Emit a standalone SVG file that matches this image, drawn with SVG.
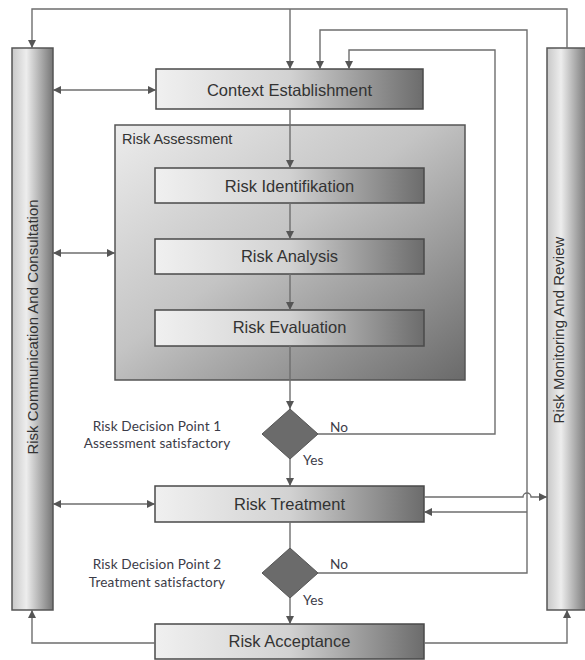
<svg xmlns="http://www.w3.org/2000/svg" width="585" height="660" viewBox="0 0 585 660">
<style>
.box{stroke:#4a4a4a;stroke-width:1.5;fill:url(#gBox)}
.bar{stroke:#555;stroke-width:1.5;fill:url(#gBar)}
.t{font-family:"Liberation Sans",Arial,sans-serif;font-size:16.5px;fill:#333;text-anchor:middle}
.bt{font-family:"Liberation Sans",Arial,sans-serif;font-size:15px;fill:#333;text-anchor:middle}
.s{font-family:Lato,"Open Sans",sans-serif;font-size:13.6px;letter-spacing:0.15px;fill:#3c3c48}
.c{fill:none;stroke:#6e6e6e;stroke-width:1.4}
</style>
<defs>
<linearGradient id="gBox" x1="0" y1="0" x2="1" y2="0">
<stop offset="0" stop-color="#f0f0f0"/><stop offset="0.5" stop-color="#d2d2d2"/><stop offset="1" stop-color="#6c6c6c"/>
</linearGradient>
<linearGradient id="gBar" x1="0" y1="0" x2="1" y2="0">
<stop offset="0" stop-color="#c8c8c8"/><stop offset="0.35" stop-color="#ededed"/><stop offset="1" stop-color="#767676"/>
</linearGradient>
<linearGradient id="gRA" x1="0" y1="0" x2="1" y2="1">
<stop offset="0" stop-color="#ececec"/><stop offset="0.45" stop-color="#c4c4c4"/><stop offset="1" stop-color="#6a6a6a"/>
</linearGradient>
<marker id="ah" viewBox="0 0 10 10" refX="10" refY="5" markerWidth="8" markerHeight="8" markerUnits="userSpaceOnUse" orient="auto-start-reverse">
<path d="M0,0 L10,5 L0,10 z" fill="#555"/>
</marker>
</defs>

<g id="communication">
<rect class="bar" x="12" y="48" width="41" height="562"/>
<text class="bt" transform="translate(38,327) rotate(-90)">Risk Communication And Consultation</text>
</g>
<g id="monitoring">
<rect class="bar" x="547" y="48" width="40" height="562"/>
<text class="bt" transform="translate(564,330) rotate(-90)">Risk Monitoring And Review</text>
</g>

<g id="context">
<rect class="box" x="156" y="69" width="267" height="40"/>
<text class="t" x="289.5" y="96">Context Establishment</text>
</g>

<g id="assessment">
<rect x="115" y="125" width="350" height="255" fill="url(#gRA)" stroke="#555" stroke-width="1.5"/>
<text x="122" y="144" font-family="Liberation Sans,Arial,sans-serif" font-size="14.5px" fill="#333">Risk Assessment</text>
</g>

<g id="identification">
<rect class="box" x="155" y="168" width="269" height="35"/>
<text class="t" x="289.5" y="192">Risk Identifikation</text>
</g>
<g id="analysis">
<rect class="box" x="155" y="239" width="269" height="35"/>
<text class="t" x="289.5" y="262">Risk Analysis</text>
</g>
<g id="evaluation">
<rect class="box" x="155" y="310" width="269" height="36"/>
<text class="t" x="289.5" y="333">Risk Evaluation</text>
</g>

<g id="decision1">
<path d="M290,409 L318,434 L290,459 L262,434 z" fill="#6b6b6b" stroke="#555" stroke-width="1"/>
<text class="s" x="157" y="431" text-anchor="middle">Risk Decision Point 1</text>
<text class="s" x="157" y="448" text-anchor="middle">Assessment satisfactory</text>
<text class="s" x="330" y="432">No</text>
<text class="s" x="303" y="465">Yes</text>
</g>

<g id="treatment">
<rect class="box" x="155" y="486" width="269" height="36"/>
<text class="t" x="289.5" y="510">Risk Treatment</text>
</g>

<g id="decision2">
<path d="M290,548 L318,573 L290,598 L262,573 z" fill="#6b6b6b" stroke="#555" stroke-width="1"/>
<text class="s" x="157" y="569" text-anchor="middle">Risk Decision Point 2</text>
<text class="s" x="157" y="587" text-anchor="middle">Treatment satisfactory</text>
<text class="s" x="330" y="569">No</text>
<text class="s" x="303" y="605">Yes</text>
</g>

<g id="acceptance">
<rect class="box" x="155" y="624" width="269" height="35"/>
<text class="t" x="289.5" y="647">Risk Acceptance</text>
</g>

<g id="connectors">
<path class="c" d="M567,48 V9 H32 V48" marker-end="url(#ah)"/>
<path class="c" d="M290,9 V69" marker-end="url(#ah)"/>
<path class="c" d="M318,434 H495 V50 H349 V69" marker-end="url(#ah)"/>
<path class="c" d="M318,573 H527 V30 H320 V69" marker-end="url(#ah)"/>
<path class="c" d="M53,90 H156" marker-start="url(#ah)" marker-end="url(#ah)"/>
<path class="c" d="M290,109 V168" marker-end="url(#ah)"/>
<path class="c" d="M290,203 V239" marker-end="url(#ah)"/>
<path class="c" d="M290,274 V310" marker-end="url(#ah)"/>
<path class="c" d="M290,346 V409" marker-end="url(#ah)"/>
<path class="c" d="M53,253 H115" marker-start="url(#ah)" marker-end="url(#ah)"/>
<path class="c" d="M290,459 V486" marker-end="url(#ah)"/>
<path class="c" d="M53,504 H155" marker-start="url(#ah)" marker-end="url(#ah)"/>
<path class="c" d="M424,497 H523 A4,4 0 0 1 531,497 H547" marker-end="url(#ah)"/>
<path class="c" d="M527,512 H424" marker-end="url(#ah)"/>
<path class="c" d="M290,522 V548"/>
<path class="c" d="M290,598 V624" marker-end="url(#ah)"/>
<path class="c" d="M155,643 H32 V610" marker-end="url(#ah)"/>
<path class="c" d="M424,643 H567 V610" marker-end="url(#ah)"/>
</g>
</svg>
